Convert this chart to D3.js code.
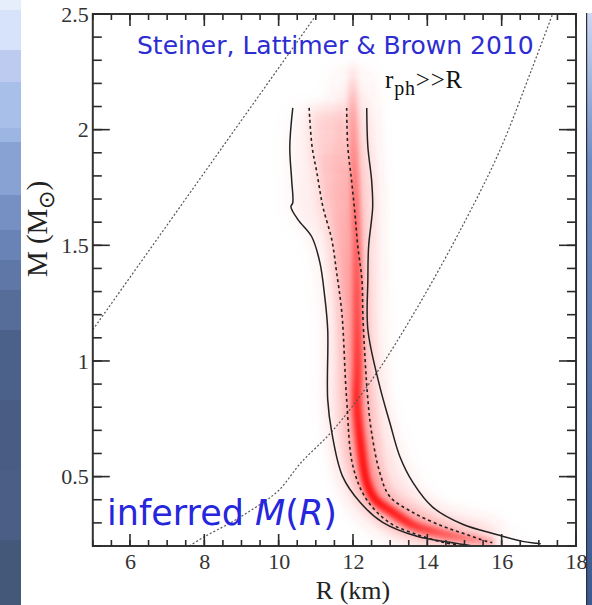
<!DOCTYPE html>
<html><head><meta charset="utf-8">
<script src="https://cdn.jsdelivr.net/npm/d3@7"></script>
<style>
html,body{margin:0;padding:0;background:#fff;}
#wrap{position:relative;width:592px;height:605px;}
#wrap svg{position:absolute;left:0;top:0;display:block;}
</style></head>
<body>
<div id="wrap">
<svg id="c" width="592" height="605"></svg>
<svg id="t" width="592" height="605"></svg>
</div>
<script>
// ---------- data ----------
const xDomain = [5, 18];
const yDomain = [0.2, 2.5];
const xMajorTicks = [6, 8, 10, 12, 14, 16, 18];
const xTickLabels = ["6", "8", "10", "12", "14", "16", "18"];
const yMajorTicks = [0.5, 1, 1.5, 2, 2.5];
const yTickLabels = ["0.5", "1", "1.5", "2", "2.5"];

// straight dotted line (R km, M Msun)
const causalR = [5.0, 11.03];
const causalM = [1.135, 2.5];

// r_ph >> R dotted curve
const rphR = [7.6, 8.0, 8.7, 9.5, 10.0, 10.6, 11.46, 12.6, 13.8, 15.0, 15.95, 16.83, 17.37];
const rphM = [0.2, 0.24, 0.30, 0.38, 0.44, 0.56, 0.70, 0.94, 1.25, 1.6, 1.91, 2.27, 2.5];

// outer (solid) contour
const outerLR = [10.38, 10.30, 10.35, 10.38, 10.33, 10.52, 10.89, 11.11, 11.24, 11.32, 11.32, 11.43, 11.72, 12.19, 12.80, 13.72, 14.6, 15.22];
const outerLM = [2.094, 1.926, 1.783, 1.684, 1.667, 1.611, 1.537, 1.425, 1.278, 1.136, 0.833, 0.691, 0.501, 0.389, 0.302, 0.242, 0.216, 0.2];
const outerRR = [12.37, 12.40, 12.50, 12.53, 12.50, 12.42, 12.40, 12.40, 12.72, 12.99, 13.26, 13.61, 14.15, 14.95, 15.86, 16.56, 16.94, 17.05];
const outerRM = [2.094, 1.926, 1.783, 1.667, 1.611, 1.494, 1.351, 1.136, 0.89, 0.734, 0.587, 0.475, 0.367, 0.294, 0.25, 0.22, 0.212, 0.21];

// inner (dashed) contour
const innerLR = [10.82, 10.90, 11.03, 11.19, 11.43, 11.56, 11.70, 11.83, 12.0, 12.37, 12.99, 13.72, 14.42, 15.05];
const innerLM = [2.094, 1.926, 1.813, 1.667, 1.524, 1.382, 1.209, 0.833, 0.544, 0.40, 0.30, 0.25, 0.216, 0.2];
const innerRR = [11.83, 11.86, 11.96, 12.05, 12.13, 12.24, 12.27, 12.40, 12.50, 12.72, 12.99, 13.61, 14.42, 15.05, 15.59, 15.75];
const innerRM = [2.094, 1.926, 1.783, 1.641, 1.494, 1.351, 1.179, 0.833, 0.691, 0.518, 0.414, 0.345, 0.285, 0.25, 0.22, 0.215];

// ridge of the probability density (R, M) and relative density
const ridgeR = [12.0, 12.0, 12.05, 12.1, 12.12, 12.12, 12.1, 12.2, 12.37, 12.6, 13.07, 13.6, 14.15, 15.0, 15.8];
const ridgeM = [2.3, 2.1, 1.8, 1.5, 1.2, 0.95, 0.83, 0.65, 0.475, 0.40, 0.345, 0.29, 0.26, 0.23, 0.21];
const ridgeD = [0.0, 0.25, 0.4, 0.5, 0.6, 0.75, 0.85, 0.95, 1.0, 1.0, 0.9, 0.8, 0.6, 0.4, 0.2];

// ---------- drawing ----------
const svg = d3.select("#c");
const W = 592, H = 605;
const L = 92.8, Rt = 576, T = 14, B = 546;
const x = d3.scaleLinear().domain(xDomain).range([L, Rt]);
const y = d3.scaleLinear().domain(yDomain).range([B, T]);
const axCol = "#333";

const leftBands = [[0,10,"#e6eefc"],[10,50,"#d6e3fa"],[50,82,"#bccbef"],[82,128,"#a8bfe9"],[128,142,"#9cb5e3"],[142,195,"#87a2d3"],[195,230,"#7690c3"],[230,260,"#6a83b6"],[260,290,"#5e77a6"],[290,330,"#566d99"],[330,400,"#4c6189"],[400,470,"#495d84"],[470,540,"#4b5f86"],[540,605,"#445879"]];
svg.selectAll("rect.lb").data(leftBands).join("rect").attr("class","lb")
  .attr("x",0).attr("width",21).attr("y",d=>d[0]).attr("height",d=>d[1]-d[0]).attr("fill",d=>d[2]);

const defs = svg.append("defs");
const rg = defs.append("linearGradient").attr("id","rg").attr("x1",0).attr("y1",0).attr("x2",0).attr("y2",1);
rg.append("stop").attr("offset","0%").attr("stop-color","#cdd9f3");
rg.append("stop").attr("offset","25%").attr("stop-color","#6f8cc2");
rg.append("stop").attr("offset","100%").attr("stop-color","#3d5a8f");
svg.append("rect").attr("x",586).attr("y",13).attr("width",6).attr("height",H-13).attr("fill","url(#rg)");
svg.append("rect").attr("x",586).attr("y",13).attr("width",1.2).attr("height",H-13).attr("fill","#2a2f40");

defs.append("clipPath").attr("id","clip").append("rect").attr("x",L).attr("y",T).attr("width",Rt-L).attr("height",B-T);
[["b10",10],["b6",6],["b3",2.8]].forEach(([id,s])=>{
  defs.append("filter").attr("id",id).attr("filterUnits","userSpaceOnUse")
    .attr("x",0).attr("y",0).attr("width",W).attr("height",H)
    .append("feGaussianBlur").attr("stdDeviation",s);
});

function densGrad(id, color, scaleOp){
  const y0 = y(ridgeM[0]), y1 = y(ridgeM[ridgeM.length-1]);
  const g = defs.append("linearGradient").attr("id",id).attr("gradientUnits","userSpaceOnUse")
    .attr("x1",0).attr("x2",0).attr("y1",y0).attr("y2",y1);
  ridgeM.forEach((m,i)=>{
    g.append("stop").attr("offset",(y(m)-y0)/(y1-y0)).attr("stop-color",color).attr("stop-opacity",scaleOp(ridgeD[i]));
  });
}
densGrad("gOuter","#ff3030",d=>Math.min(1,d*1.6)*0.10);
densGrad("gInner","#ff3030",d=>Math.min(1,d*1.6)*0.32);
densGrad("gGlow","#ff4040",d=>Math.min(1,d*2.5)*0.22);
densGrad("gRidge","#ff0000",d=>d*0.9);

const plot = svg.append("g").attr("clip-path","url(#clip)");
const dens = plot.append("g");
const pts = (Rs, Ms) => Rs.map((r,i)=>[x(r), y(Ms[i])]);
const line = d3.line().curve(d3.curveCatmullRom.alpha(0.5));
const lineLin = d3.line();

const outerPoly = pts(outerLR, outerLM).concat(pts(outerRR, outerRM).reverse());
dens.append("path").attr("d", line(outerPoly)+"Z").attr("fill","url(#gOuter)").attr("filter","url(#b10)");
const innerPoly = pts(innerLR, innerLM).concat(pts(innerRR, innerRM).reverse());
dens.append("path").attr("d", line(innerPoly)+"Z").attr("fill","url(#gInner)").attr("filter","url(#b6)");
dens.append("path").attr("d", line(pts(ridgeR, ridgeM)))
  .attr("fill","none").attr("stroke","url(#gGlow)").attr("stroke-width",36).attr("filter","url(#b10)");
dens.append("path").attr("d", line(pts(ridgeR, ridgeM)))
  .attr("fill","none").attr("stroke","url(#gRidge)").attr("stroke-width",9).attr("filter","url(#b3)");

plot.append("path").attr("d", lineLin(pts(causalR, causalM))).attr("fill","none")
  .attr("stroke","#555").attr("stroke-width",1.2).attr("stroke-dasharray","2,2");
plot.append("path").attr("d", line(pts(rphR, rphM))).attr("fill","none")
  .attr("stroke","#555").attr("stroke-width",1.2).attr("stroke-dasharray","2,2");
[[outerLR,outerLM],[outerRR,outerRM]].forEach(([a,b])=>{
  plot.append("path").attr("d", line(pts(a,b))).attr("fill","none").attr("stroke","#222").attr("stroke-width",1.5);
});
[[innerLR,innerLM],[innerRR,innerRM]].forEach(([a,b])=>{
  plot.append("path").attr("d", line(pts(a,b))).attr("fill","none").attr("stroke","#222").attr("stroke-width",1.6).attr("stroke-dasharray","3,3");
});

// tick labels via d3 axes
function styleAxis(g){
  g.select(".domain").remove();
  g.selectAll(".tick line").remove();
  g.selectAll(".tick text").attr("fill","#333").attr("font-family","'Liberation Serif', serif").attr("font-size",22);
}
svg.append("g").attr("transform",`translate(0,${B})`)
  .call(d3.axisBottom(x).tickValues(xMajorTicks).tickSize(0).tickPadding(7).tickFormat((d,i)=>xTickLabels[i])).call(styleAxis);
svg.append("g").attr("transform",`translate(${L},0)`)
  .call(d3.axisLeft(y).tickValues(yMajorTicks).tickSize(0).tickPadding(4).tickFormat((d,i)=>yTickLabels[i])).call(styleAxis);

// texts
svg.append("text").attr("x",137).attr("y",54).attr("font-family","'DejaVu Sans', sans-serif").attr("font-size",25)
  .attr("fill","#2d2dd2").text("Steiner, Lattimer & Brown 2010");
const rph = svg.append("text").attr("x",385).attr("y",88).attr("font-family","'Liberation Serif', serif").attr("font-size",25)
  .attr("fill","#111").attr("letter-spacing",0.8);
rph.append("tspan").text("r");
rph.append("tspan").attr("dy",7).attr("font-size",20).text("ph");
rph.append("tspan").attr("dy",-7).text(">>R");

const inf = svg.append("text").attr("x",107).attr("y",525).attr("font-family","'DejaVu Sans', sans-serif").attr("font-size",35)
  .attr("fill","#2626dc");
inf.append("tspan").text("inferred ");
inf.append("tspan").attr("font-style","italic").text("M");
inf.append("tspan").text("(");
inf.append("tspan").attr("font-style","italic").text("R");
inf.append("tspan").text(")");

svg.append("text").attr("x",353).attr("y",599).attr("text-anchor","middle").attr("font-family","'Liberation Serif', serif")
  .attr("font-size",26).attr("fill","#222").text("R (km)");
const yl = svg.append("text").attr("transform","translate(47,229) rotate(-90)").attr("text-anchor","middle")
  .attr("font-family","'Liberation Serif', serif").attr("font-size",29).attr("fill","#222");
yl.append("tspan").text("M (M");
yl.append("tspan").attr("dy",7).attr("font-size",22).text("⊙");
yl.append("tspan").attr("dy",-7).text(")");

// ---------- overlay svg: frame and tick marks ----------
const ov = d3.select("#t");
ov.append("rect").attr("x",L).attr("y",T).attr("width",Rt-L).attr("height",B-T)
  .attr("fill","none").attr("stroke",axCol).attr("stroke-width",2);
const xMinor = d3.range(5, 18.01, 0.5);
const yMinor = d3.range(0.2, 2.501, 0.1).map(v=>+v.toFixed(2));
[[xMinor,6],[xMajorTicks,12]].forEach(([vals,len],k)=>{
  ov.selectAll("line.xb"+k).data(vals).join("line").attr("class","xb"+k)
    .attr("x1",d=>x(d)).attr("x2",d=>x(d)).attr("y1",B).attr("y2",B-len)
    .attr("stroke","#2b2b2b").attr("stroke-width",1.6);
  ov.selectAll("line.xt"+k).data(vals).join("line").attr("class","xt"+k)
    .attr("x1",d=>x(d)).attr("x2",d=>x(d)).attr("y1",T).attr("y2",T+len)
    .attr("stroke","#2b2b2b").attr("stroke-width",1.6);
});
[[yMinor,9],[yMajorTicks,17]].forEach(([vals,len],k)=>{
  ov.selectAll("line.yl"+k).data(vals).join("line").attr("class","yl"+k)
    .attr("y1",d=>y(d)).attr("y2",d=>y(d)).attr("x1",L).attr("x2",L+len)
    .attr("stroke","#2b2b2b").attr("stroke-width",1.6);
  ov.selectAll("line.yr"+k).data(vals).join("line").attr("class","yr"+k)
    .attr("y1",d=>y(d)).attr("y2",d=>y(d)).attr("x1",Rt).attr("x2",Rt-len)
    .attr("stroke","#2b2b2b").attr("stroke-width",1.6);
});
</script>
</body></html>
